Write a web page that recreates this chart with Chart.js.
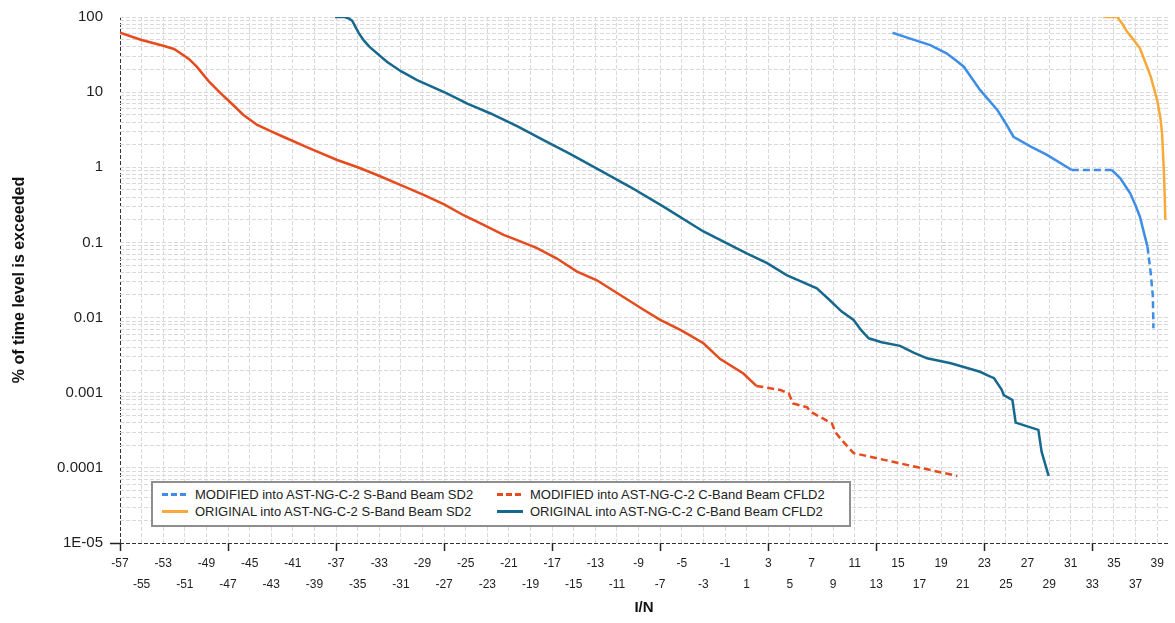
<!DOCTYPE html>
<html>
<head>
<meta charset="utf-8">
<script src="https://cdn.jsdelivr.net/npm/chart.js@4/dist/chart.umd.min.js"></script>
<style>
	body { margin: 0; background: #fff; }
	#wrap { position: relative; width: 1175px; height: 623px; }
	#legend {
		position: absolute; left: 151px; top: 481px; width: 700px; height: 46px;
		box-sizing: border-box; border: 2px solid #8e8e8e; background: #fff;
		display: grid; grid-template-columns: 335px auto; grid-auto-rows: 17px;
		padding: 3px 0 0 9px; font: 13px "Liberation Sans", Arial, sans-serif; color: #222;
	}
	.item { display: flex; align-items: center; white-space: nowrap; }
	.sample { width: 26px; height: 3px; margin-right: 7px; }
</style>
</head>
<body>
<div id="wrap">
	<canvas id="chart" width="1175" height="623"></canvas>
	<div id="legend"></div>
</div>
<script>
// series labels
const blueModLabel = 'MODIFIED into AST-NG-C-2 S-Band Beam SD2';
const redModLabel = 'MODIFIED into AST-NG-C-2 C-Band Beam CFLD2';
const orangeOrigLabel = 'ORIGINAL into AST-NG-C-2 S-Band Beam SD2';
const tealOrigLabel = 'ORIGINAL into AST-NG-C-2 C-Band Beam CFLD2';

// MODIFIED S-Band (blue)
const blueX = [14.5, 15.8, 17, 18, 19.5, 20.3, 21.1, 22.6, 24.2, 25, 25.7, 27.3, 28.8, 31.1, 34.8, 35.6, 36.5, 37, 37.4, 37.8, 38.1, 38.4, 38.6, 38.65];
const blueY = [61.8, 53.6, 47, 42.3, 32.9, 27, 21.8, 10.7, 5.8, 3.8, 2.55, 1.88, 1.46, 0.92, 0.92, 0.71, 0.45, 0.31, 0.22, 0.13, 0.088, 0.039, 0.019, 0.0072];

// MODIFIED C-Band (red)
const redX = [-57, -55, -53, -52, -51.4, -50.6, -49.9, -48.8, -47.7, -46.6, -45.6, -44.3, -43, -41.9, -39.5, -36.9, -35, -33.2, -31, -28.9, -27, -25.2, -23.3, -21.5, -20.3, -18.4, -16.6, -14.7, -12.9, -10.7, -8.5, -7, -5, -3, -1.44, 0.7, 1.9, 4.1, 4.9, 5.3, 6.6, 6.9, 8.9, 9.2, 9.8, 10.9, 20.5];
const redY = [62, 49.5, 41.5, 37.5, 33, 27.5, 21.8, 14, 9.7, 6.9, 5, 3.66, 3, 2.55, 1.8, 1.25, 1, 0.79, 0.58, 0.43, 0.32, 0.23, 0.17, 0.126, 0.108, 0.084, 0.0615, 0.041, 0.0316, 0.02, 0.0126, 0.0093, 0.0067, 0.00455, 0.0028, 0.0018, 0.00123, 0.00109, 0.00098, 0.00072, 0.00064, 0.00056, 0.00039, 0.0003, 0.000234, 0.000157, 0.000078];

// ORIGINAL S-Band (orange)
const orangeX = [34, 35.3, 35.8, 36.2, 36.8, 37.4, 37.9, 38.4, 39, 39.3, 39.45, 39.6, 39.7, 39.75];
const orangeY = [100, 100, 80, 64, 50, 38.3, 25, 16.1, 7.85, 4.5, 2.83, 1.02, 0.4, 0.2];

// ORIGINAL C-Band (teal)
const tealX = [-37.1, -36.2, -35.8, -35.5, -34.9, -34.4, -33.9, -32.3, -31, -29.5, -26.8, -24.8, -22.7, -20.2, -17.8, -15.3, -12.9, -9.8, -6.7, -3, 1, 2.9, 4.7, 7.5, 8.7, 9.8, 10.9, 11.6, 12.3, 13.5, 15.2, 16.5, 17.7, 19.9, 22.6, 23.3, 23.9, 24.6, 24.8, 25.6, 25.9, 28, 28.3, 28.95];
const tealY = [100, 100, 95, 89, 61, 48, 40, 25.4, 19, 14.5, 9.7, 7, 5.2, 3.5, 2.3, 1.5, 0.97, 0.55, 0.3, 0.14, 0.0714, 0.053, 0.0368, 0.0245, 0.017, 0.012, 0.0093, 0.0068, 0.0053, 0.0047, 0.0042, 0.0034, 0.00287, 0.00246, 0.0019, 0.0017, 0.00156, 0.0011, 0.00093, 0.0008, 0.0004, 0.00032, 0.000164, 0.000078];

// axis ticks
const xTicks = [-57, -55, -53, -51, -49, -47, -45, -43, -41, -39, -37, -35, -33, -31, -29, -27, -25, -23, -21, -19, -17, -15, -13, -11, -9, -7, -5, -3, -1, 1, 3, 5, 7, 9, 11, 13, 15, 17, 19, 21, 23, 25, 27, 29, 31, 33, 35, 37, 39];
const yDecades = [1e-5, 1e-4, 0.001, 0.01, 0.1, 1, 10, 100];
const yTickLabels = ['1E-05', '0.0001', '0.001', '0.01', '0.1', '1', '10', '100'];

const FONT = '"Liberation Sans", Arial, sans-serif';
Chart.defaults.font.family = FONT;

const toPoints = (xs, ys) => xs.map((x, i) => ({ x: x, y: ys[i] }));

// where the dashed series show their dashes (x ranges of segment starts)
const dashSpans = {};
dashSpans[blueModLabel] = [[31, 34.7], [38, 41]];
dashSpans[redModLabel] = [[1.85, 21]];

const makeSet = (label, xs, ys, color, dashed) => {
	const spans = dashSpans[label] || [];
	return {
		label: label,
		data: toPoints(xs, ys),
		borderColor: color,
		backgroundColor: color,
		borderWidth: 2.5,
		pointRadius: 0,
		tension: 0,
		fill: false,
		dashedLegend: dashed,
		segment: {
			borderDash: (c) => {
				let x = c.p0.parsed.x;
				return spans.some((s) => x >= s[0] && x <= s[1]) ? [7, 4] : [];
			},
		},
	};
};

const datasets = [
	makeSet(blueModLabel, blueX, blueY, '#3e8de6', true),
	makeSet(redModLabel, redX, redY, '#e54b1c', true),
	makeSet(orangeOrigLabel, orangeX, orangeY, '#f8a93a', false),
	makeSet(tealOrigLabel, tealX, tealY, '#17688f', false),
];

const chart = new Chart(document.getElementById('chart'), {
	type: 'line',
	data: { datasets: datasets },
	options: {
		responsive: false,
		animation: false,
		layout: { padding: { top: 17, right: 7, left: 0, bottom: 0 } },
		plugins: { legend: { display: false }, tooltip: { enabled: false } },
		scales: {
			x: {
				type: 'linear',
				min: -57,
				max: 40,
				afterFit: (s) => { s.height = 80; },
				afterBuildTicks: (s) => { s.ticks = xTicks.map((v) => ({ value: v })); },
				ticks: {
					autoSkip: false,
					maxRotation: 0,
					minRotation: 0,
					padding: 2,
					color: '#1e1e1e',
					font: { size: 12, lineHeight: 1.75 },
					callback: (v, i) => (i % 2 === 0 ? String(v) : ['', String(v)]),
				},
				grid: {
					color: (c) => (c.index === 0 ? '#333' : '#d9d9d9'),
					lineWidth: 1,
					tickLength: 8,
					tickWidth: 1.5,
					tickColor: (c) => (c.index % 5 === 0 ? '#222' : 'rgba(0,0,0,0)'),
				},
				border: { display: false, dash: [4, 2] },
				title: { display: true, text: 'I/N', color: '#111', font: { size: 15, weight: 'bold' }, padding: { top: 0, bottom: 6 } },
			},
			y: {
				type: 'logarithmic',
				min: 1e-5,
				max: 100,
				afterFit: (s) => { s.width = 120; },
				afterBuildTicks: (s) => {
					let ticks = [];
					for (let k = 0; k < yDecades.length - 1; k++) {
						for (let m = 1; m <= 9; m++) {
							ticks.push({ value: m === 1 ? yDecades[k] : m * yDecades[k] });
						}
					}
					ticks.push({ value: yDecades[yDecades.length - 1] });
					s.ticks = ticks;
				},
				ticks: {
					autoSkip: false,
					padding: 7,
					color: '#1e1e1e',
					font: { size: 15 },
					callback: (v) => {
						let k = yDecades.indexOf(v);
						return k >= 0 ? yTickLabels[k] : '';
					},
				},
				grid: {
					color: (c) => (c.index === 0 ? '#333' : '#d9d9d9'),
					lineWidth: 1,
					tickLength: 10,
					tickWidth: 1.5,
					tickColor: (c) => (c.index === 0 ? '#222' : 'rgba(0,0,0,0)'),
				},
				border: { display: false, dash: [4, 2] },
				title: { display: true, text: '% of time level is exceeded', color: '#111', font: { size: 16, weight: 'bold' }, padding: { top: 10, bottom: 0 } },
			},
		},
	},
});

// html legend from the chart's datasets
const legend = document.getElementById('legend');
chart.data.datasets.forEach((ds) => {
	const bg = ds.dashedLegend
		? `repeating-linear-gradient(90deg, ${ds.borderColor} 0 6px, transparent 6px 9px)`
		: ds.borderColor;
	const item = document.createElement('div');
	item.className = 'item';
	item.innerHTML = `<span class="sample" style="background:${bg}"></span><span>${ds.label}</span>`;
	legend.append(item);
});
</script>
</body>
</html>
